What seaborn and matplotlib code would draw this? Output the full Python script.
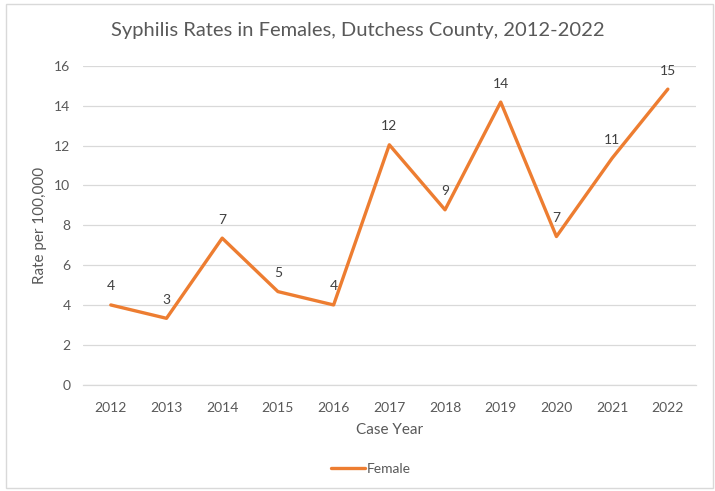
import matplotlib
matplotlib.use("Agg")
import matplotlib.pyplot as plt
from matplotlib.patches import Rectangle
import seaborn as sns
import pandas as pd

years = [2012, 2013, 2014, 2015, 2016, 2017, 2018, 2019, 2020, 2021, 2022]
female_rate = [4.01, 3.34, 7.36, 4.68, 4.01, 12.04, 8.78, 14.18, 7.44, 11.37, 14.83]
rate_labels = ["4", "3", "7", "5", "4", "12", "9", "14", "7", "11", "15"]

df = pd.DataFrame({"Case Year": years, "Rate": female_rate})

sns.set_theme(style="white")
plt.rcParams["font.family"] = ["Lato", "DejaVu Sans"]

txt = "#595959"
orange = "#ED7D31"

fig = plt.figure(figsize=(7.15, 4.91), dpi=100)
ax = fig.add_axes([0.116, 0.216, 0.857, 0.650])

sns.lineplot(data=df, x="Case Year", y="Rate", color=orange, linewidth=2.4,
             label="Female", ax=ax)

for x, y, s in zip(years, female_rate, rate_labels):
    ax.annotate(s, (x, y), xytext=(0, 9), textcoords="offset points",
                ha="center", va="bottom", fontsize=10, color="#404040")

ax.set_xlim(2011.5, 2022.5)
ax.set_ylim(0, 16)
ax.set_xticks(years)
ax.set_yticks(range(0, 17, 2))
ax.yaxis.grid(True, color="#D9D9D9", linewidth=0.9)
ax.set_axisbelow(True)
for side in ["top", "right", "left"]:
    ax.spines[side].set_visible(False)
ax.spines["bottom"].set_color("#D9D9D9")
ax.spines["bottom"].set_linewidth(0.9)
ax.tick_params(axis="both", length=0, labelsize=10, labelcolor=txt)
ax.tick_params(axis="x", pad=12)
ax.tick_params(axis="y", pad=9)

ax.set_xlabel("Case Year", fontsize=11, color=txt, labelpad=7)
ax.set_ylabel("Rate per 100,000", fontsize=11, color=txt, labelpad=5)

fig.suptitle("Syphilis Rates in Females, Dutchess County, 2012-2022",
             fontsize=14.5, color=txt, y=0.955)

ax.legend(loc="upper center", bbox_to_anchor=(0.47, -0.205), frameon=False,
          fontsize=10, labelcolor=txt, handlelength=2.4, handletextpad=0.15)

fig.patches.append(Rectangle((0.009, 0.006), 0.988, 0.985, transform=fig.transFigure,
                             fill=False, edgecolor="#D9D9D9", linewidth=1))

fig.savefig("out.png", dpi=100)
